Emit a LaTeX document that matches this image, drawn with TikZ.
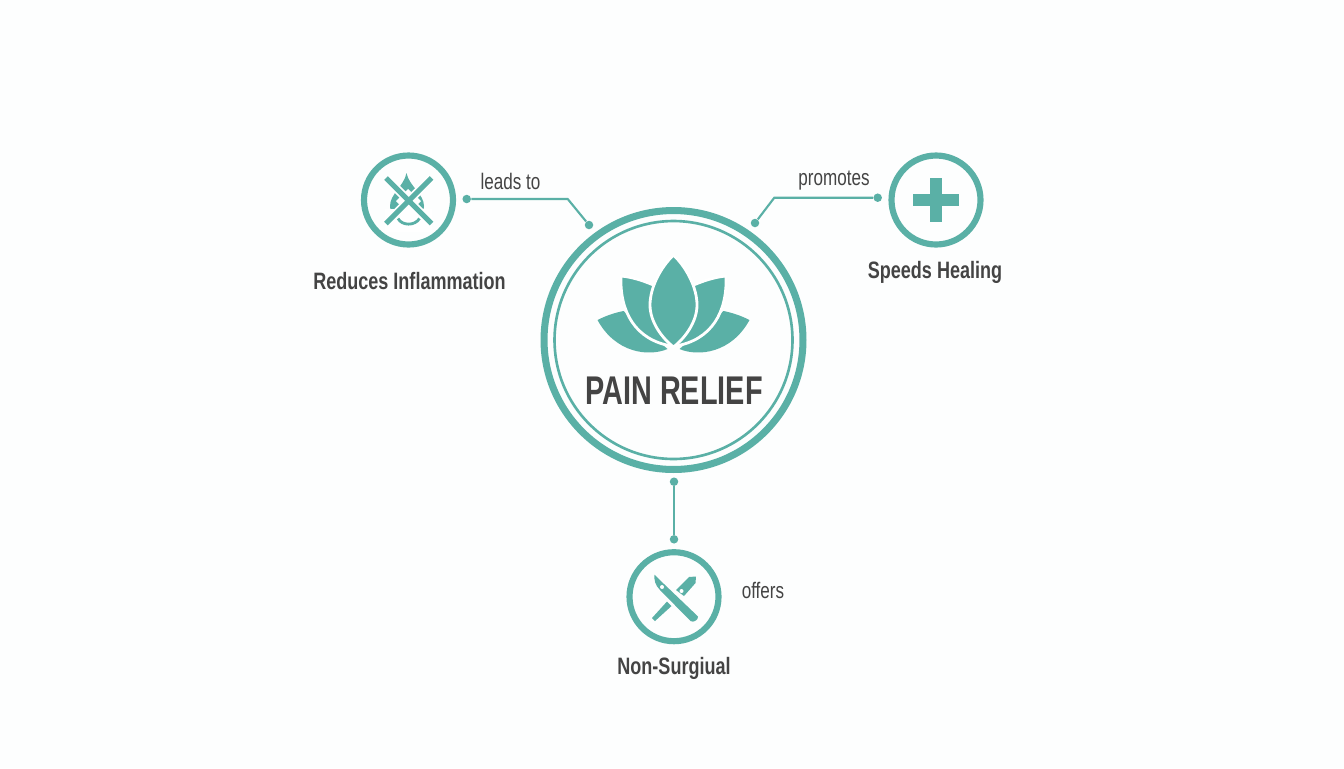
\documentclass[tikz,border=0pt]{standalone}
\usepackage{fontspec}
\usetikzlibrary{positioning}
\newfontfamily\narrowfont[FakeStretch=0.76]{Liberation Sans}
\newfontfamily\titlefont[FakeStretch=0.72]{Liberation Sans}
\definecolor{reliefteal}{HTML}{5AB0A6}
\definecolor{reliefink}{HTML}{444444}
\definecolor{reliefpaper}{HTML}{FDFEFE}

\begin{document}
\begin{tikzpicture}
 [ x=0.02cm
 , y=-0.02cm
 , ring/.style={circle, draw=reliefteal, line width=3.5pt, minimum size=1.78cm, inner sep=0pt}
 , dot/.style={circle, fill=reliefteal, inner sep=0pt, minimum size=0.17cm}
 , wire/.style={draw=reliefteal, line width=1.2pt}
 , title/.style={font=\titlefont\bfseries\fontsize{22.8}{24}\selectfont, text=reliefink, inner sep=0pt}
 , benefit/.style={font=\narrowfont\bfseries\fontsize{13.5}{15}\selectfont, text=reliefink, inner sep=0pt}
 , link/.style={font=\narrowfont\fontsize{12.8}{14}\selectfont, text=reliefink, inner sep=0pt}
 , petal/.style={fill=reliefteal, draw=white, line width=1.6pt}
 , glyph/.style={fill=reliefteal, draw=none}
 ]
  \useasboundingbox (0,0) rectangle (1344,768);
  \fill [reliefpaper] (0,0) rectangle (1344,768);

  % centre
  \node [circle, draw=reliefteal, line width=4pt, minimum size=5.18cm] (reliefOuter) at (673.5,340) {};
  \node [circle, draw=reliefteal, line width=1.5pt, minimum size=4.76cm] (reliefInner) at (reliefOuter) {};
  \node [title] (reliefTitle) at (674,391) {PAIN RELIEF};

  \foreach \side in {1,-1}
  {
    \begin{scope}[shift={(673.5,0)}, xscale=\side]
      \fill [reliefteal] (-76,320) .. controls (-68,316) and (-60,313) .. (-50,311)
        -- (-6,349) .. controls (-25,357) and (-58,353) .. (-76,320) -- cycle;
      \filldraw [petal] (-52.5,276) .. controls (-42,277) and (-32,280) .. (-20,285)
        -- (-2,346) .. controls (-38,340) and (-54,312) .. (-52.5,276) -- cycle;
    \end{scope}
  }
  \filldraw [petal] (673.5,255) .. controls (660,268) and (650,288) .. (650,305)
    .. controls (650,322) and (662,338) .. (673.5,347)
    .. controls (685,338) and (697,322) .. (697,305)
    .. controls (697,288) and (687,268) .. (673.5,255) -- cycle;

  % reduces inflammation
  \node [ring] (inflammation) at (408.5,200) {};
  \fill [reliefteal] (406.5,173) .. controls (404,186) and (390,194) .. (390,206)
    .. controls (390,214) and (398,217) .. (407,217)
    .. controls (416,217) and (424,214) .. (424,206)
    .. controls (424,194) and (409,186) .. (406.5,173) -- cycle;
  \draw [white, line width=5pt] (386,178) -- (431.5,223.5) (431.5,178) -- (386,223.5);
  \fill [white] (396,201) -- (408,189) -- (421,201) -- (408,214) -- cycle;
  \fill [white] (385,209) rectangle (432,232);
  \draw [reliefteal, line width=1.6pt] (398,218.5) .. controls (402,226) and (415,226) .. (419.5,218.5);
  \draw [reliefteal, line width=3pt] (386,178) -- (431.5,223.5) (431.5,178) -- (386,223.5);
  \node [benefit] (inflammationLabel) at (409.5,281) {Reduces Inflammation};

  % speeds healing
  \node [ring] (healing) at (936,200) {};
  \fill [reliefteal] (930.3,177.7) rectangle (941.7,222.3);
  \fill [reliefteal] (913,194.3) rectangle (958.7,205.7);
  \node [benefit] (healingLabel) at (935,272.5) {Speeds Healing};

  % non-surgical
  \node [ring] (surgical) at (674,596.7) {};
  \fill [glyph] (654.5,574.5) -- (664,584) -- (698,616.5)
    .. controls (698.5,620) and (693,623) .. (690.5,621) -- (660,590)
    .. controls (655,585) and (654,580) .. (654.5,574.5) -- cycle;
  \fill [white] (662,587) circle (2);
  \fill [glyph] (676,590) -- (689,577) -- (696,576.5) -- (695.5,583) -- (684,596) -- cycle;
  \fill [white] (681.5,591) circle (2);
  \fill [glyph] (652,618) -- (667,601.5) -- (671.5,606) -- (655,621) -- cycle;
  \node [benefit] (surgicalLabel) at (674,668) {Non-Surgiual};

  % connectors
  \node [dot] (leadsStart) at (466.7,199) {};
  \coordinate (leadsBend) at (567.7,199);
  \node [dot] (leadsEnd) at (589,225) {};
  \draw [wire] (leadsStart) -- (leadsBend) -- (leadsEnd);
  \node [link] (leadsLabel) at (510.5,181.5) {leads to};

  \node [dot] (promotesStart) at (877.7,197.7) {};
  \coordinate (promotesBend) at (774.3,197.7);
  \node [dot] (promotesEnd) at (755,223) {};
  \draw [wire] (promotesStart) -- (promotesBend) -- (promotesEnd);
  \node [link] (promotesLabel) at (834,181) {promotes};

  \node [dot] (offersStart) at (674,481.7) {};
  \node [dot] (offersEnd) at (674,539.3) {};
  \draw [wire] (offersStart) -- (offersEnd);
  \node [link] (offersLabel) at (763,590) {offers};
\end{tikzpicture}
\end{document}
